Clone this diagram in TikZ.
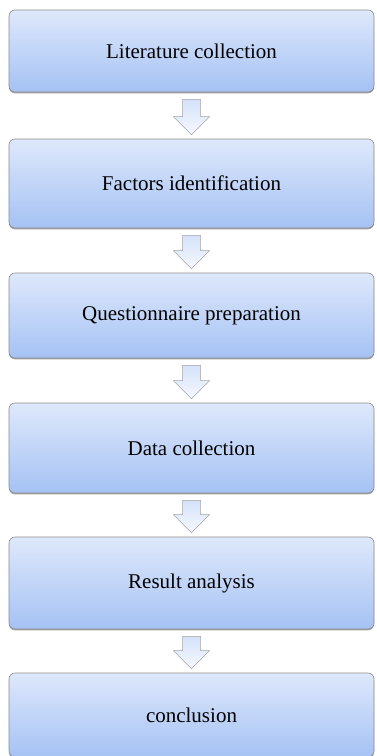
\documentclass[tikz,border=0pt]{standalone}
\usepackage{fontspec}
\setmainfont{Liberation Serif}
\usetikzlibrary{calc,shadows}
\definecolor{boxtop}{HTML}{DEE8FB}
\definecolor{boxbot}{HTML}{A5C2F4}
\definecolor{arrtop}{HTML}{D5E2FA}
\definecolor{arrbot}{HTML}{F6F8FE}
\definecolor{edge}{HTML}{8C8C8C}
\begin{document}
\begin{tikzpicture}[x=1pt,y=-1pt,
  stepbox/.style={draw=edge, line width=0.6pt, rounded corners=6pt,
    top color=boxtop, bottom color=boxbot, minimum width=365pt, inner sep=0pt,
    font=\fontsize{21}{25}\selectfont,
    drop shadow={shadow xshift=0pt, shadow yshift=-1.3pt, fill=gray!75, opacity=1}},
  blockarrow/.style={draw=edge!80, line width=0.5pt, top color=arrtop, bottom color=arrbot}]
\useasboundingbox (0,0) rectangle (376,756);
\node[stepbox, minimum height=82pt] (b1) at (191.5,51) {Literature collection};
\node[stepbox, minimum height=89pt] (b2) at (191.5,183.5) {Factors identification};
\node[stepbox, minimum height=85pt] (b3) at (191.5,315.5) {Questionnaire preparation};
\node[stepbox, minimum height=90pt] (b4) at (191.5,448) {Data collection};
\node[stepbox, minimum height=92pt] (b5) at (191.5,583) {Result analysis};
\node[stepbox, minimum height=84pt] (b6) at (191.5,715) {conclusion};
\foreach \a/\b in {b1/b2,b2/b3,b3/b4,b4/b5,b5/b6}{
  \path[blockarrow] let \p1=(\a.south), \p2=(\b.north) in
    (\x1-9pt,\y1-7pt) -- (\x1+9pt,\y1-7pt) -- (\x1+9pt,\y2+22pt) --
    (\x1+18pt,\y2+22pt) -- (\x1,\y2+4pt) -- (\x1-18pt,\y2+22pt) --
    (\x1-9pt,\y2+22pt) -- cycle;
}
\end{tikzpicture}
\end{document}
